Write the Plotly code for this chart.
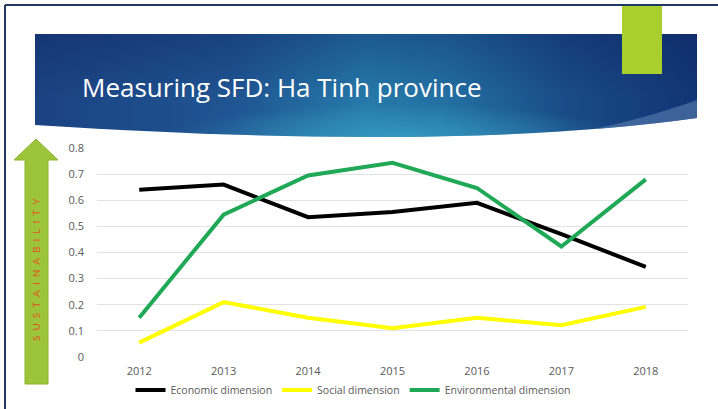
import base64
import plotly.graph_objects as go

# ---- data ----
years = ["2012", "2013", "2014", "2015", "2016", "2017", "2018"]
economic = [0.64, 0.66, 0.535, 0.555, 0.59, 0.47, 0.345]
social = [0.055, 0.21, 0.15, 0.11, 0.15, 0.122, 0.192]
environmental = [0.15, 0.545, 0.695, 0.743, 0.647, 0.423, 0.68]
y_ticks = [0, 0.1, 0.2, 0.3, 0.4, 0.5, 0.6, 0.7, 0.8]

title_text = "Measuring SFD: Ha Tinh province"
side_text = "SUSTAINABILITY"

# ---- layout geometry (pixels) ----
W, H = 718, 409
L, R, T, B = 97, 688, 148, 357


def px(x):
    return (x - L) / (R - L)


def py(y):
    return (B - y) / (B - T)


fig = go.Figure()
fig.add_trace(go.Scatter(x=years, y=economic, mode="lines", name="Economic dimension",
                         line=dict(color="#000000", width=4)))
fig.add_trace(go.Scatter(x=years, y=social, mode="lines", name="Social dimension",
                         line=dict(color="#ffff00", width=4)))
fig.add_trace(go.Scatter(x=years, y=environmental, mode="lines", name="Environmental dimension",
                         line=dict(color="#1fa855", width=4)))

# ---- banner as an SVG image ----
bw, bh = 662, 106
svg = f'''<svg xmlns="http://www.w3.org/2000/svg" width="{bw}" height="{bh}" viewBox="0 0 {bw} {bh}" preserveAspectRatio="none">
<defs>
<linearGradient id="g" x1="0" y1="0" x2="1" y2="0">
<stop offset="0" stop-color="#1b4282"/>
<stop offset="0.3" stop-color="#1f5592"/>
<stop offset="0.5" stop-color="#2679aa"/>
<stop offset="0.62" stop-color="#2370a3"/>
<stop offset="0.8" stop-color="#194c88"/>
<stop offset="1" stop-color="#123474"/>
</linearGradient>
<linearGradient id="v" x1="0" y1="0" x2="0" y2="1">
<stop offset="0" stop-color="#0b1f5a" stop-opacity="0.35"/>
<stop offset="0.6" stop-color="#0b1f5a" stop-opacity="0.0"/>
</linearGradient>
<radialGradient id="r" cx="0.55" cy="1.0" r="0.35">
<stop offset="0" stop-color="#3aa6c8" stop-opacity="0.75"/>
<stop offset="1" stop-color="#3aa6c8" stop-opacity="0"/>
</radialGradient>
<clipPath id="c"><path d="M0,0 L{bw},0 L{bw},84 Q420,118 0,91 Z"/></clipPath>
</defs>
<g clip-path="url(#c)">
<rect x="0" y="0" width="{bw}" height="{bh}" fill="url(#g)"/>
<rect x="0" y="0" width="{bw}" height="{bh}" fill="url(#r)"/>
<rect x="0" y="0" width="{bw}" height="{bh}" fill="url(#v)"/>
<path d="M500,106 Q590,92 {bw},66 L{bw},{bh} Z" fill="#5a7fb0" opacity="0.6"/>
</g>
</svg>'''
src = "data:image/svg+xml;base64," + base64.b64encode(svg.encode()).decode()

images = [dict(source=src, xref="paper", yref="paper", x=px(35), y=py(34),
               sizex=px(35 + bw) - px(35), sizey=py(34) - py(34 + bh),
               xanchor="left", yanchor="top", sizing="stretch", layer="below")]

shapes = [
    # frame
    dict(type="line", xref="paper", yref="paper", x0=px(5), x1=px(718), y0=py(5), y1=py(5),
         line=dict(color="#1f3864", width=2)),
    dict(type="line", xref="paper", yref="paper", x0=px(5), x1=px(5), y0=py(5), y1=py(409),
         line=dict(color="#1f3864", width=2)),
    # green accent rectangle
    dict(type="rect", xref="paper", yref="paper", x0=px(622), x1=px(662), y0=py(6), y1=py(74),
         fillcolor="#a8cf2e", line=dict(width=0), layer="above"),
    # arrow
    dict(type="path", xref="paper", yref="paper", layer="below",
         path=(f"M {px(36)},{py(139)} L {px(58)},{py(160)} L {px(48)},{py(160)} "
               f"L {px(48)},{py(384)} L {px(25)},{py(384)} L {px(25)},{py(160)} "
               f"L {px(14)},{py(160)} Z"),
         fillcolor="#9cc53c", line=dict(color="#8bb332", width=1)),
]

annotations = [
    dict(text=title_text, xref="paper", yref="paper", x=px(80), y=py(87),
         xanchor="left", yanchor="middle", showarrow=False,
         font=dict(family="Open Sans", size=26, color="#ffffff")),
    dict(text="\u2002".join(side_text), xref="paper", yref="paper", x=px(36), y=py(270),
         xanchor="center", yanchor="middle", showarrow=False, textangle=-90,
         font=dict(family="Lato", size=10, color="#e0561e")),
]

fig.update_layout(
    width=W, height=H,
    margin=dict(l=L, r=W - R, t=T, b=H - B, autoexpand=False),
    paper_bgcolor="#ffffff", plot_bgcolor="#ffffff",
    font=dict(family="Open Sans", size=10, color="#595959"),
    showlegend=True,
    legend=dict(orientation="h", x=px(353), xanchor="center", y=py(390), yanchor="middle",
                font=dict(size=10.5, color="#595959"), itemwidth=30, bgcolor="rgba(0,0,0,0)"),
    xaxis=dict(type="category", range=[-0.5, 6.5], showgrid=False, zeroline=False,
               showline=False, ticks="", ticklabelstandoff=6,
               tickfont=dict(size=11, color="#595959")),
    yaxis=dict(range=[0, 0.8], tickvals=y_ticks, showgrid=True, gridcolor="#e3e3e3",
               gridwidth=1, zeroline=False, showline=False, ticks="",
               ticklabelstandoff=12, tickfont=dict(size=11, color="#595959")),
    shapes=shapes, images=images, annotations=annotations,
)

fig.write_html("out.html", config={"displayModeBar": False},
               post_script="document.body.style.margin='0';")
